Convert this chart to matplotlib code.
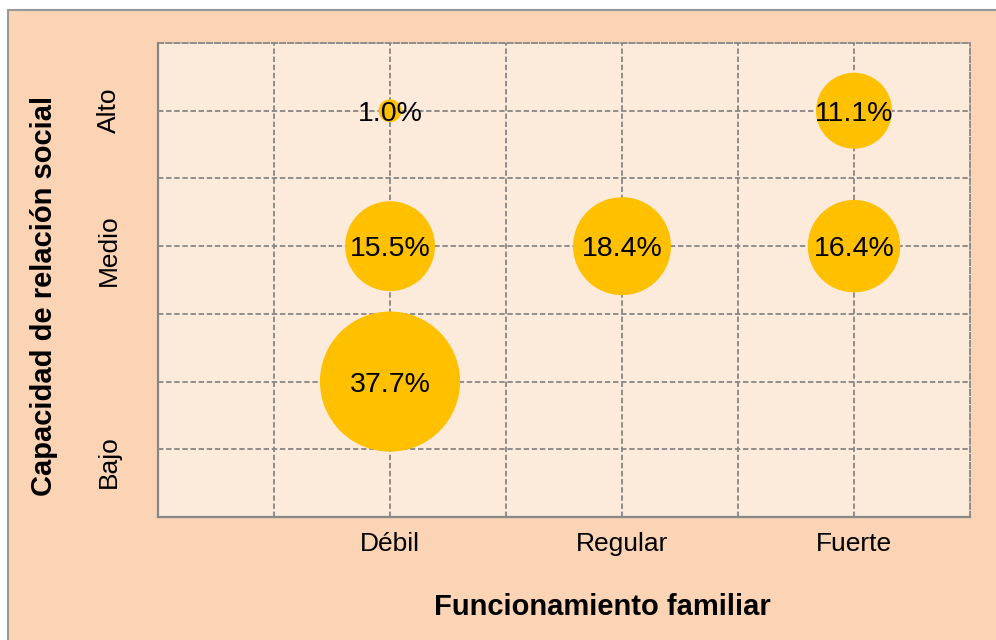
import numpy as np
import matplotlib
matplotlib.use("Agg")
import matplotlib.pyplot as plt
from matplotlib.patches import Rectangle

plt.rcParams["font.family"] = ["Liberation Sans", "DejaVu Sans"]

# datos
x_cats = ["Débil", "Regular", "Fuerte"]
y_cats = ["Bajo", "Medio", "Alto"]
pts_x = ["Débil", "Débil", "Débil", "Regular", "Fuerte", "Fuerte"]
pts_y = ["Bajo", "Medio", "Alto", "Medio", "Medio", "Alto"]
pct = [37.7, 15.5, 1.0, 18.4, 16.4, 11.1]

outer_bg = "#FBD3B5"
inner_bg = "#FCEADB"
bubble_c = "#FFC000"
grid_c = "#878787"
dash = (0, (3, 1.5))

fig = plt.figure(figsize=(9.96, 6.4), dpi=100)
fig.patch.set_facecolor("white")
fig.add_artist(Rectangle((8 / 996, -0.1), 1.2, 1 - 10 / 640 + 0.1,
                         transform=fig.transFigure, facecolor=outer_bg,
                         edgecolor="#9A9A9A", lw=1.5, zorder=0))

ax = fig.add_axes([158 / 996, 1 - 517 / 640, (970 - 158) / 996, (517 - 43) / 640])
ax.set_facecolor(inner_bg)

xpos = {c: i + 1 for i, c in enumerate(x_cats)}
ypos = {c: i + 1 for i, c in enumerate(y_cats)}
X = np.array([xpos[c] for c in pts_x])
Y = np.array([ypos[c] for c in pts_y])
V = np.array(pct)

# rejilla cada 0.5
for g in np.arange(0.5, 3.5, 0.5):
    ax.axvline(g, color=grid_c, lw=1.3, ls=dash, zorder=1)
    ax.axhline(g, color=grid_c, lw=1.3, ls=dash, zorder=1)

ax.scatter(X, Y, s=V * 270, color=bubble_c, linewidths=0, zorder=3)
for x, y, v in zip(X, Y, V):
    ax.text(x, y, f"{v:.1f}%", ha="center", va="center_baseline",
            fontsize=20.5, zorder=4)

ax.set_xlim(0, 3.5)
ax.set_ylim(0, 3.5)

ax.set_xticks([1, 2, 3])
ax.set_xticklabels(x_cats, fontsize=19)
ax.set_yticks([0.41, 1.97, 3.0])
ax.set_yticklabels(y_cats, fontsize=19, rotation=90, va="center")
ax.tick_params(which="both", length=0)
ax.tick_params(axis="x", pad=11)
ax.tick_params(axis="y", pad=27)

for s in ["left", "bottom"]:
    ax.spines[s].set_color(grid_c)
    ax.spines[s].set_linewidth(1.6)
for s in ["top", "right"]:
    ax.spines[s].set_color(grid_c)
    ax.spines[s].set_linewidth(1.3)
    ax.spines[s].set_linestyle(dash)

fig.text(602 / 996, 1 - 607 / 640, "Funcionamiento familiar",
         ha="center", va="center", fontsize=21, fontweight="bold")
fig.text(44 / 996, 1 - 296 / 640, "Capacidad de relación social",
         ha="center", va="center", rotation=90, fontsize=21, fontweight="bold")

fig.savefig("out.png", dpi=100, facecolor=fig.get_facecolor())
